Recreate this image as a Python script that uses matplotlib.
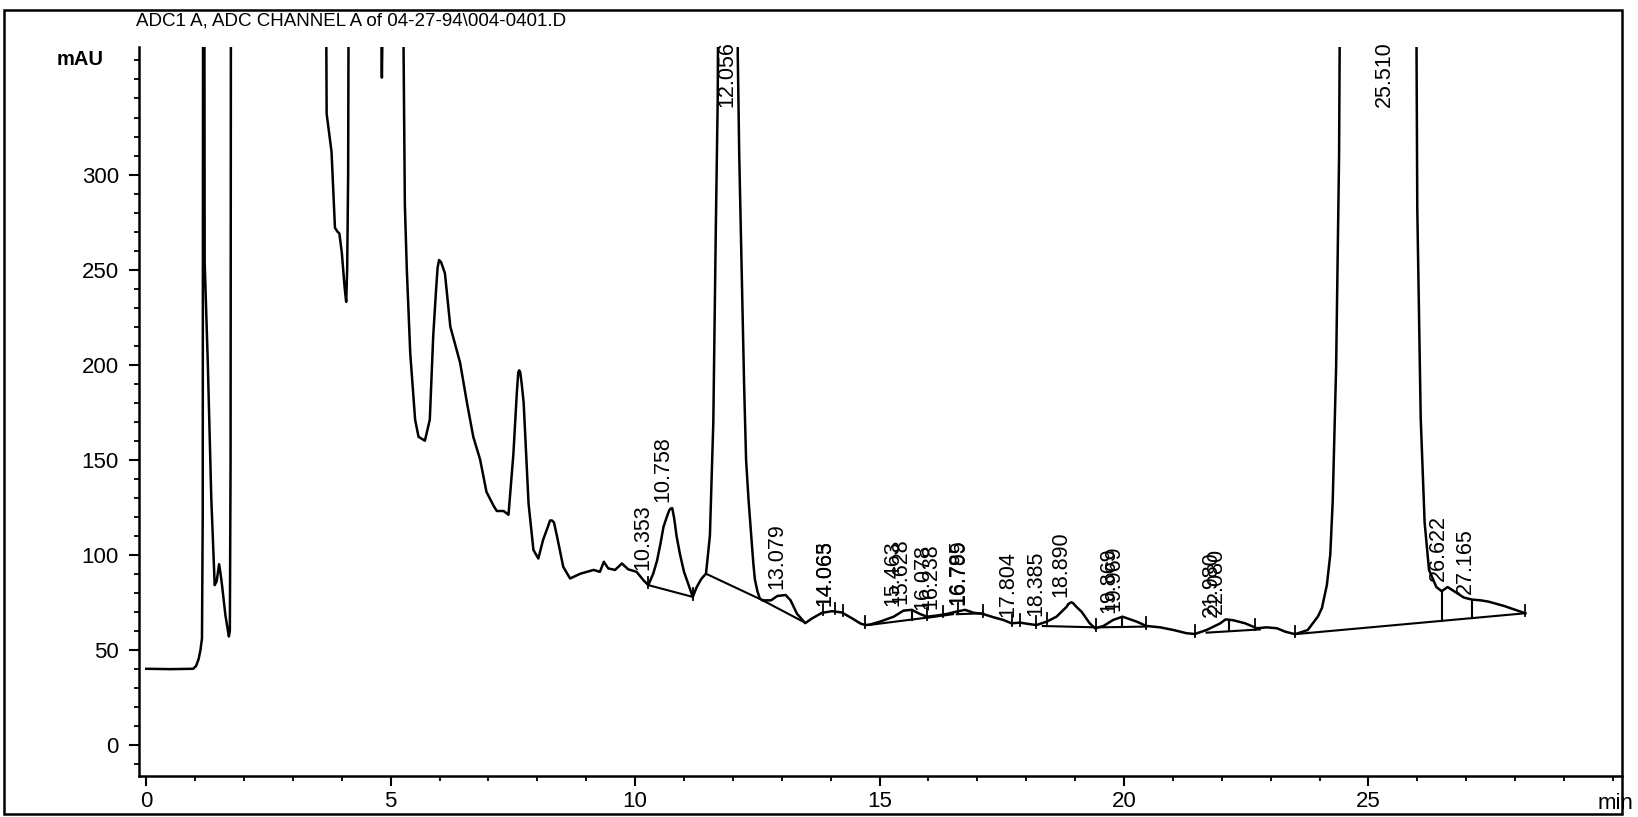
import matplotlib
matplotlib.use('Agg')
import matplotlib.pyplot as plt
from matplotlib.patches import Rectangle
import numpy as np

plt.rcParams['font.family'] = ['Liberation Sans', 'DejaVu Sans']

# detector trace: retention time (min) and signal (mAU)
# values of 500 stand for the parts that run off the top of the chart
time = [0.00, 0.50, 0.96, 1.02, 1.07, 1.11, 1.14, 1.155, 1.165, 1.185, 1.195,
        1.26, 1.33, 1.40, 1.44, 1.49, 1.52, 1.55, 1.62, 1.69, 1.71, 1.725, 1.735,
        3.66, 3.69, 3.79, 3.86, 3.91, 3.95, 4.00, 4.06, 4.09, 4.11, 4.13, 4.15,
        4.79, 4.81, 4.82, 4.83, 4.85,
        5.22, 5.29, 5.33, 5.40, 5.50, 5.57, 5.70, 5.80, 5.87, 5.93, 5.96, 5.99,
        6.03, 6.07, 6.11, 6.22,
        6.42, 6.56, 6.69, 6.83, 6.96, 7.10, 7.17, 7.31, 7.41, 7.51, 7.58, 7.61,
        7.63, 7.65, 7.68, 7.72,
        7.82, 7.92, 8.02, 8.12, 8.22, 8.26, 8.30, 8.34, 8.40, 8.53, 8.67, 8.88,
        9.15, 9.28, 9.36,
        9.45, 9.59, 9.73, 9.86, 10.03, 10.17, 10.27, 10.37, 10.45, 10.52, 10.58,
        10.65, 10.70, 10.73, 10.76, 10.80, 10.85, 10.92, 11.00,
        11.06, 11.18, 11.26, 11.36, 11.45, 11.53, 11.60, 11.65, 11.69, 11.72,
        12.08, 12.10, 12.13, 12.18, 12.23, 12.27, 12.32, 12.36, 12.39, 12.42,
        12.45, 12.50, 12.55, 12.61,
        12.78, 12.91, 13.08, 13.18, 13.31, 13.48, 13.62, 13.82, 14.03, 14.23,
        14.44, 14.61, 14.71, 14.81, 15.01, 15.29, 15.49, 15.66, 15.83, 15.97,
        16.17, 16.37, 16.58, 16.75, 16.92, 17.12, 17.33, 17.53, 17.70, 17.87,
        18.04, 18.21, 18.42, 18.62, 18.83, 18.86, 18.92, 18.96, 19.03, 19.13,
        19.30, 19.41, 19.58,
        19.78, 19.97, 20.26, 20.46, 20.74, 21.01, 21.28, 21.45, 21.69, 21.97,
        22.08, 22.24, 22.48, 22.72, 22.92, 23.13, 23.30, 23.50, 23.76, 23.97,
        24.05, 24.15, 24.22, 24.27, 24.34, 24.40, 24.44,
        25.96, 26.00, 26.07, 26.15, 26.24, 26.39, 26.50, 26.62, 26.80, 26.95,
        27.12, 27.30, 27.46, 27.78, 28.21]
signal = [40.0, 39.8, 40.0, 41.5, 45, 50, 56, 120, 500, 500, 254,
          200, 130, 84, 86, 95, 90, 84, 68, 57, 60, 150, 500,
          500, 332, 312, 272, 270, 269, 259, 240, 233, 250, 300, 500,
          500, 370, 351, 370, 500,
          500, 284, 250, 206, 171, 162, 160, 171, 215, 240, 251, 255,
          254, 251, 248, 220,
          201, 180, 162, 150, 133, 126, 123, 123, 121, 153, 185, 196,
          197, 196, 190, 180,
          127, 102.5, 98, 108, 115, 118, 118, 117, 110, 93.6, 87.5, 90,
          92, 91, 96.3,
          92.8, 92, 95.4, 92.3, 91, 86.6, 84, 90, 97, 106, 114.6,
          120, 123.5, 124.3, 124.5, 119, 109.5, 100, 91,
          86.6, 77.8, 83, 87.5, 90, 110, 170, 270, 340, 500,
          500, 363, 310, 250, 189, 150, 129, 115, 105, 95,
          87, 81, 77, 76,
          76, 78.3, 78.8, 76, 69, 64, 66.5, 69.4, 70.3, 69.6,
          66.5, 63.8, 63, 63.3, 64.8, 67.4, 70.6, 71, 68.8, 67.4,
          68, 68.8, 70.1, 71, 69.5, 68.8, 67.1, 65.7, 63.9, 64.3,
          63.6, 63, 64.8, 67.4, 72.7, 74, 75, 74.5, 72.5, 70.1,
          63.9, 61.3, 62.5,
          65.7, 67.4, 64.8, 62.5, 61.8, 60.4, 58.7, 58.3, 60.4, 63.9,
          66, 65.5, 63.9, 61.3, 61.8, 61.3, 59.5, 58.2, 60.4, 67.6,
          72, 84, 100, 128, 199, 309, 500,
          500, 282, 172, 117, 92, 83, 80.8, 83, 80, 77.5,
          76.4, 76, 75.3, 73, 69.2]

# retention times printed above the peaks
peak_rt = [10.353, 10.758, 12.056, 13.079, 14.063, 14.065, 15.463, 15.628,
           16.078, 16.238, 16.785, 16.799, 17.804, 18.385, 18.890, 19.869,
           19.969, 21.980, 22.080, 25.510, 26.622, 27.165]

# integration baselines (start time, start mAU, end time, end mAU)
base_t0 = [10.27, 11.45, 12.61, 14.77, 16.00, 16.58, 18.34, 19.50, 21.69, 23.50]
base_v0 = [84.0, 90.0, 76.0, 63.0, 66.9, 68.7, 62.5, 61.8, 59.0, 58.2]
base_t1 = [11.18, 12.61, 13.48, 15.97, 16.50, 17.12, 19.43, 20.46, 22.78, 28.21]
base_v1 = [77.8, 76.0, 64.2, 66.9, 68.7, 69.2, 61.8, 62.2, 60.7, 69.2]

# drop lines from baseline up to the trace, and small event marks on the trace
drop_t = [15.66, 19.97, 22.15, 26.50, 27.12]
mark_t = [10.27, 11.18, 13.85, 14.08, 14.25, 14.71, 15.97, 16.30, 16.60,
          17.12, 17.70, 17.88, 18.21, 18.42, 19.43, 20.46, 21.45, 22.68,
          23.50, 28.21]


def baseline_at(t):
    for a, va, b, vb in zip(base_t0, base_v0, base_t1, base_v1):
        if a <= t <= b:
            return va + (vb - va) * (t - a) / (b - a)
    return np.interp(t, time, signal)


fig = plt.figure(figsize=(16.38, 8.17), dpi=100)
ax = fig.add_axes([0.0849, 0.0502, 0.9054, 0.8923])
ymin, ymax = -16.4, 367.1
ax.set_xlim(-0.147, 30.19)
ax.set_ylim(ymin, ymax)

ax.plot(time, signal, color='black', lw=1.8, solid_joinstyle='round')

for a, va, b, vb in zip(base_t0, base_v0, base_t1, base_v1):
    ax.plot([a, b], [va, vb], color='black', lw=1.5)

for t in drop_t:
    ax.plot([t, t], [baseline_at(t), np.interp(t, time, signal)], color='black', lw=1.5)

for t in mark_t:
    v = np.interp(t, time, signal)
    ax.plot([t, t], [v - 1.5, v + 4.5], color='black', lw=1.3)

for rt in peak_rt:
    v = np.interp(rt, time, signal)
    if v + 3 > ymax - 40:
        ax.text(rt + 0.03, ymax + 3, '%.3f' % rt, rotation=90, ha='right', va='top',
                fontsize=15.5, clip_on=False)
    else:
        ax.text(rt + 0.03, v + 3, '%.3f' % rt, rotation=90, ha='right', va='bottom',
                fontsize=15.5, clip_on=False)

ax.spines['top'].set_visible(False)
ax.spines['right'].set_visible(False)
ax.spines['left'].set_linewidth(1.8)
ax.spines['bottom'].set_linewidth(1.8)

ax.set_xticks(range(0, 30, 5))
ax.set_xticks(range(0, 31), minor=True)
ax.set_yticks(range(0, 301, 50))
ax.set_yticks([v for v in range(-10, 361, 10) if v % 50 != 0 or v > 300], minor=True)
ax.tick_params(axis='both', which='major', length=7.5, width=1.5, labelsize=16, direction='out')
ax.tick_params(axis='both', which='minor', length=3.8, width=1.3, direction='out')
ax.tick_params(axis='y', which='major', pad=7)
ax.tick_params(axis='x', which='major', pad=3)

fig.text(0.049, 0.927, 'mAU', fontsize=14.5, fontweight='bold', ha='center', va='center')
fig.text(0.9756, 0.016, 'min', fontsize=16, ha='left', va='center')
fig.text(0.083, 0.9745, 'ADC1 A, ADC CHANNEL A of 04-27-94\\004-0401.D', fontsize=13.5,
         ha='left', va='center')

fig.patches.append(Rectangle((0.0024, 0.0037), 0.9878, 0.9843, transform=fig.transFigure,
                             fill=False, edgecolor='black', lw=1.8))

fig.savefig('out.png', dpi=100)
